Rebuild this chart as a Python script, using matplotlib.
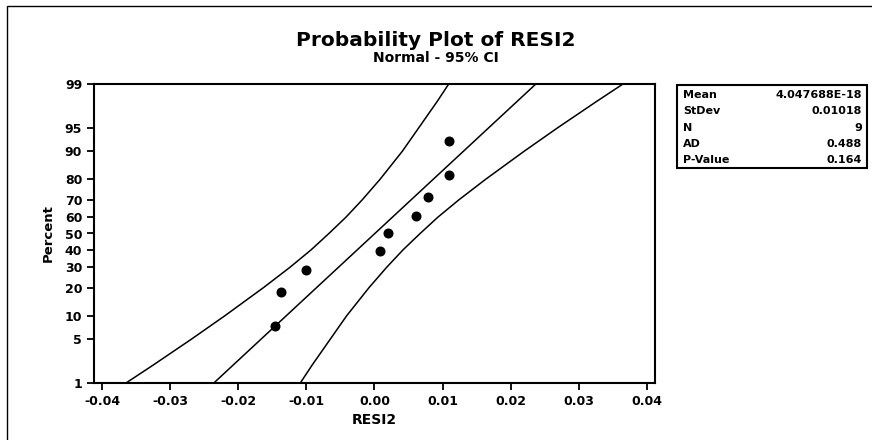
import numpy as np
import matplotlib
matplotlib.use("Agg")
import matplotlib.pyplot as plt
from matplotlib.patches import Rectangle
from statistics import NormalDist

# residuals (x) and plotting positions (percent)
resid = [-0.0146, -0.0137, -0.0100, 0.0008, 0.0020, 0.0061, 0.0079, 0.0110, 0.0110]
pct = [7.4, 18.1, 28.7, 39.4, 50.0, 60.6, 71.3, 81.9, 92.6]

# fitted line end points and 95% CI bands, read at these percent levels
fit_pct = [1, 99]
fit_x = [-0.0236, 0.0237]
band_pct = [1, 2, 5, 10, 20, 30, 40, 50, 60, 70, 80, 90, 95, 98, 99]
lower_x = [-0.0365, -0.0326, -0.0269, -0.0220, -0.0163, -0.0124, -0.0093, -0.0067,
           -0.0042, -0.0018, 0.0008, 0.0041, 0.0065, 0.0092, 0.0109]
upper_x = [-0.0109, -0.0092, -0.0065, -0.0041, -0.0008, 0.0018, 0.0042, 0.0067,
           0.0093, 0.0124, 0.0163, 0.0220, 0.0269, 0.0326, 0.0365]

yticks = [1, 5, 10, 20, 30, 40, 50, 60, 70, 80, 90, 95, 99]
xticks = [-0.04, -0.03, -0.02, -0.01, 0.0, 0.01, 0.02, 0.03, 0.04]

stat_names = ["Mean", "StDev", "N", "AD", "P-Value"]
stat_vals = ["4.047688E-18", "0.01018", "9", "0.488", "0.164"]

plt.rcParams["font.family"] = "DejaVu Sans"
plt.rcParams["font.weight"] = "bold"

nd = NormalDist()
_ppf = np.vectorize(lambda v: nd.inv_cdf(v / 100.0), otypes=[float])
_cdf = np.vectorize(lambda v: nd.cdf(v) * 100.0, otypes=[float])

def fwd(p):
    p = np.clip(np.asarray(p, dtype=float), 1e-6, 100 - 1e-6)
    return _ppf(p)

def inv(z):
    return _cdf(np.asarray(z, dtype=float))

fig = plt.figure(figsize=(8.72, 4.4), dpi=100)
ax = fig.add_axes([94 / 872, 1 - 383 / 440, (655 - 94) / 872, (383 - 84) / 440])
ax.set_yscale("function", functions=(fwd, inv))

ax.plot(lower_x, band_pct, color="black", lw=1.1)
ax.plot(upper_x, band_pct, color="black", lw=1.1)
ax.plot(fit_x, fit_pct, color="black", lw=1.1)
ax.plot(resid, pct, "o", color="black", ms=6.2)

ax.set_ylim(1, 99)
ax.set_xlim(-0.0412, 0.0412)
ax.set_yticks(yticks)
ax.set_yticklabels([str(t) for t in yticks])
ax.yaxis.set_minor_locator(matplotlib.ticker.NullLocator())
ax.set_xticks(xticks)
ax.set_xticklabels([f"{t:.2f}" for t in xticks])
ax.tick_params(direction="out", length=5, width=1.3, labelsize=9)
for s in ax.spines.values():
    s.set_linewidth(1.5)

ax.set_xlabel("RESI2", fontsize=10, fontweight="bold", labelpad=4)
ax.set_ylabel("Percent", fontsize=9.5, fontweight="bold", labelpad=7)

fig.text(0.5, 1 - 40 / 440, "Probability Plot of RESI2", ha="center", va="center",
         fontsize=14.5, fontweight="bold")
fig.text(0.5, 1 - 58 / 440, "Normal - 95% CI", ha="center", va="center",
         fontsize=10, fontweight="bold")

# statistics box
bx0, bx1, by0, by1 = 677, 867, 85, 168
fig.patches.append(Rectangle((bx0 / 872, 1 - by1 / 440), (bx1 - bx0) / 872, (by1 - by0) / 440,
                             transform=fig.transFigure, fill=False, lw=1.5, color="black"))
for i, (n, v) in enumerate(zip(stat_names, stat_vals)):
    yy = 1 - (95 + i * 16.3) / 440
    fig.text((bx0 + 6) / 872, yy, n, ha="left", va="center", fontsize=8, fontweight="bold")
    fig.text((bx1 - 5) / 872, yy, v, ha="right", va="center", fontsize=8, fontweight="bold")

# outer frame
fig.patches.append(Rectangle((7 / 872, -0.05), 1.0, 1 - 6 / 440 + 0.05,
                             transform=fig.transFigure, fill=False, lw=1.0, color="black"))

fig.savefig("out.png", dpi=100)
